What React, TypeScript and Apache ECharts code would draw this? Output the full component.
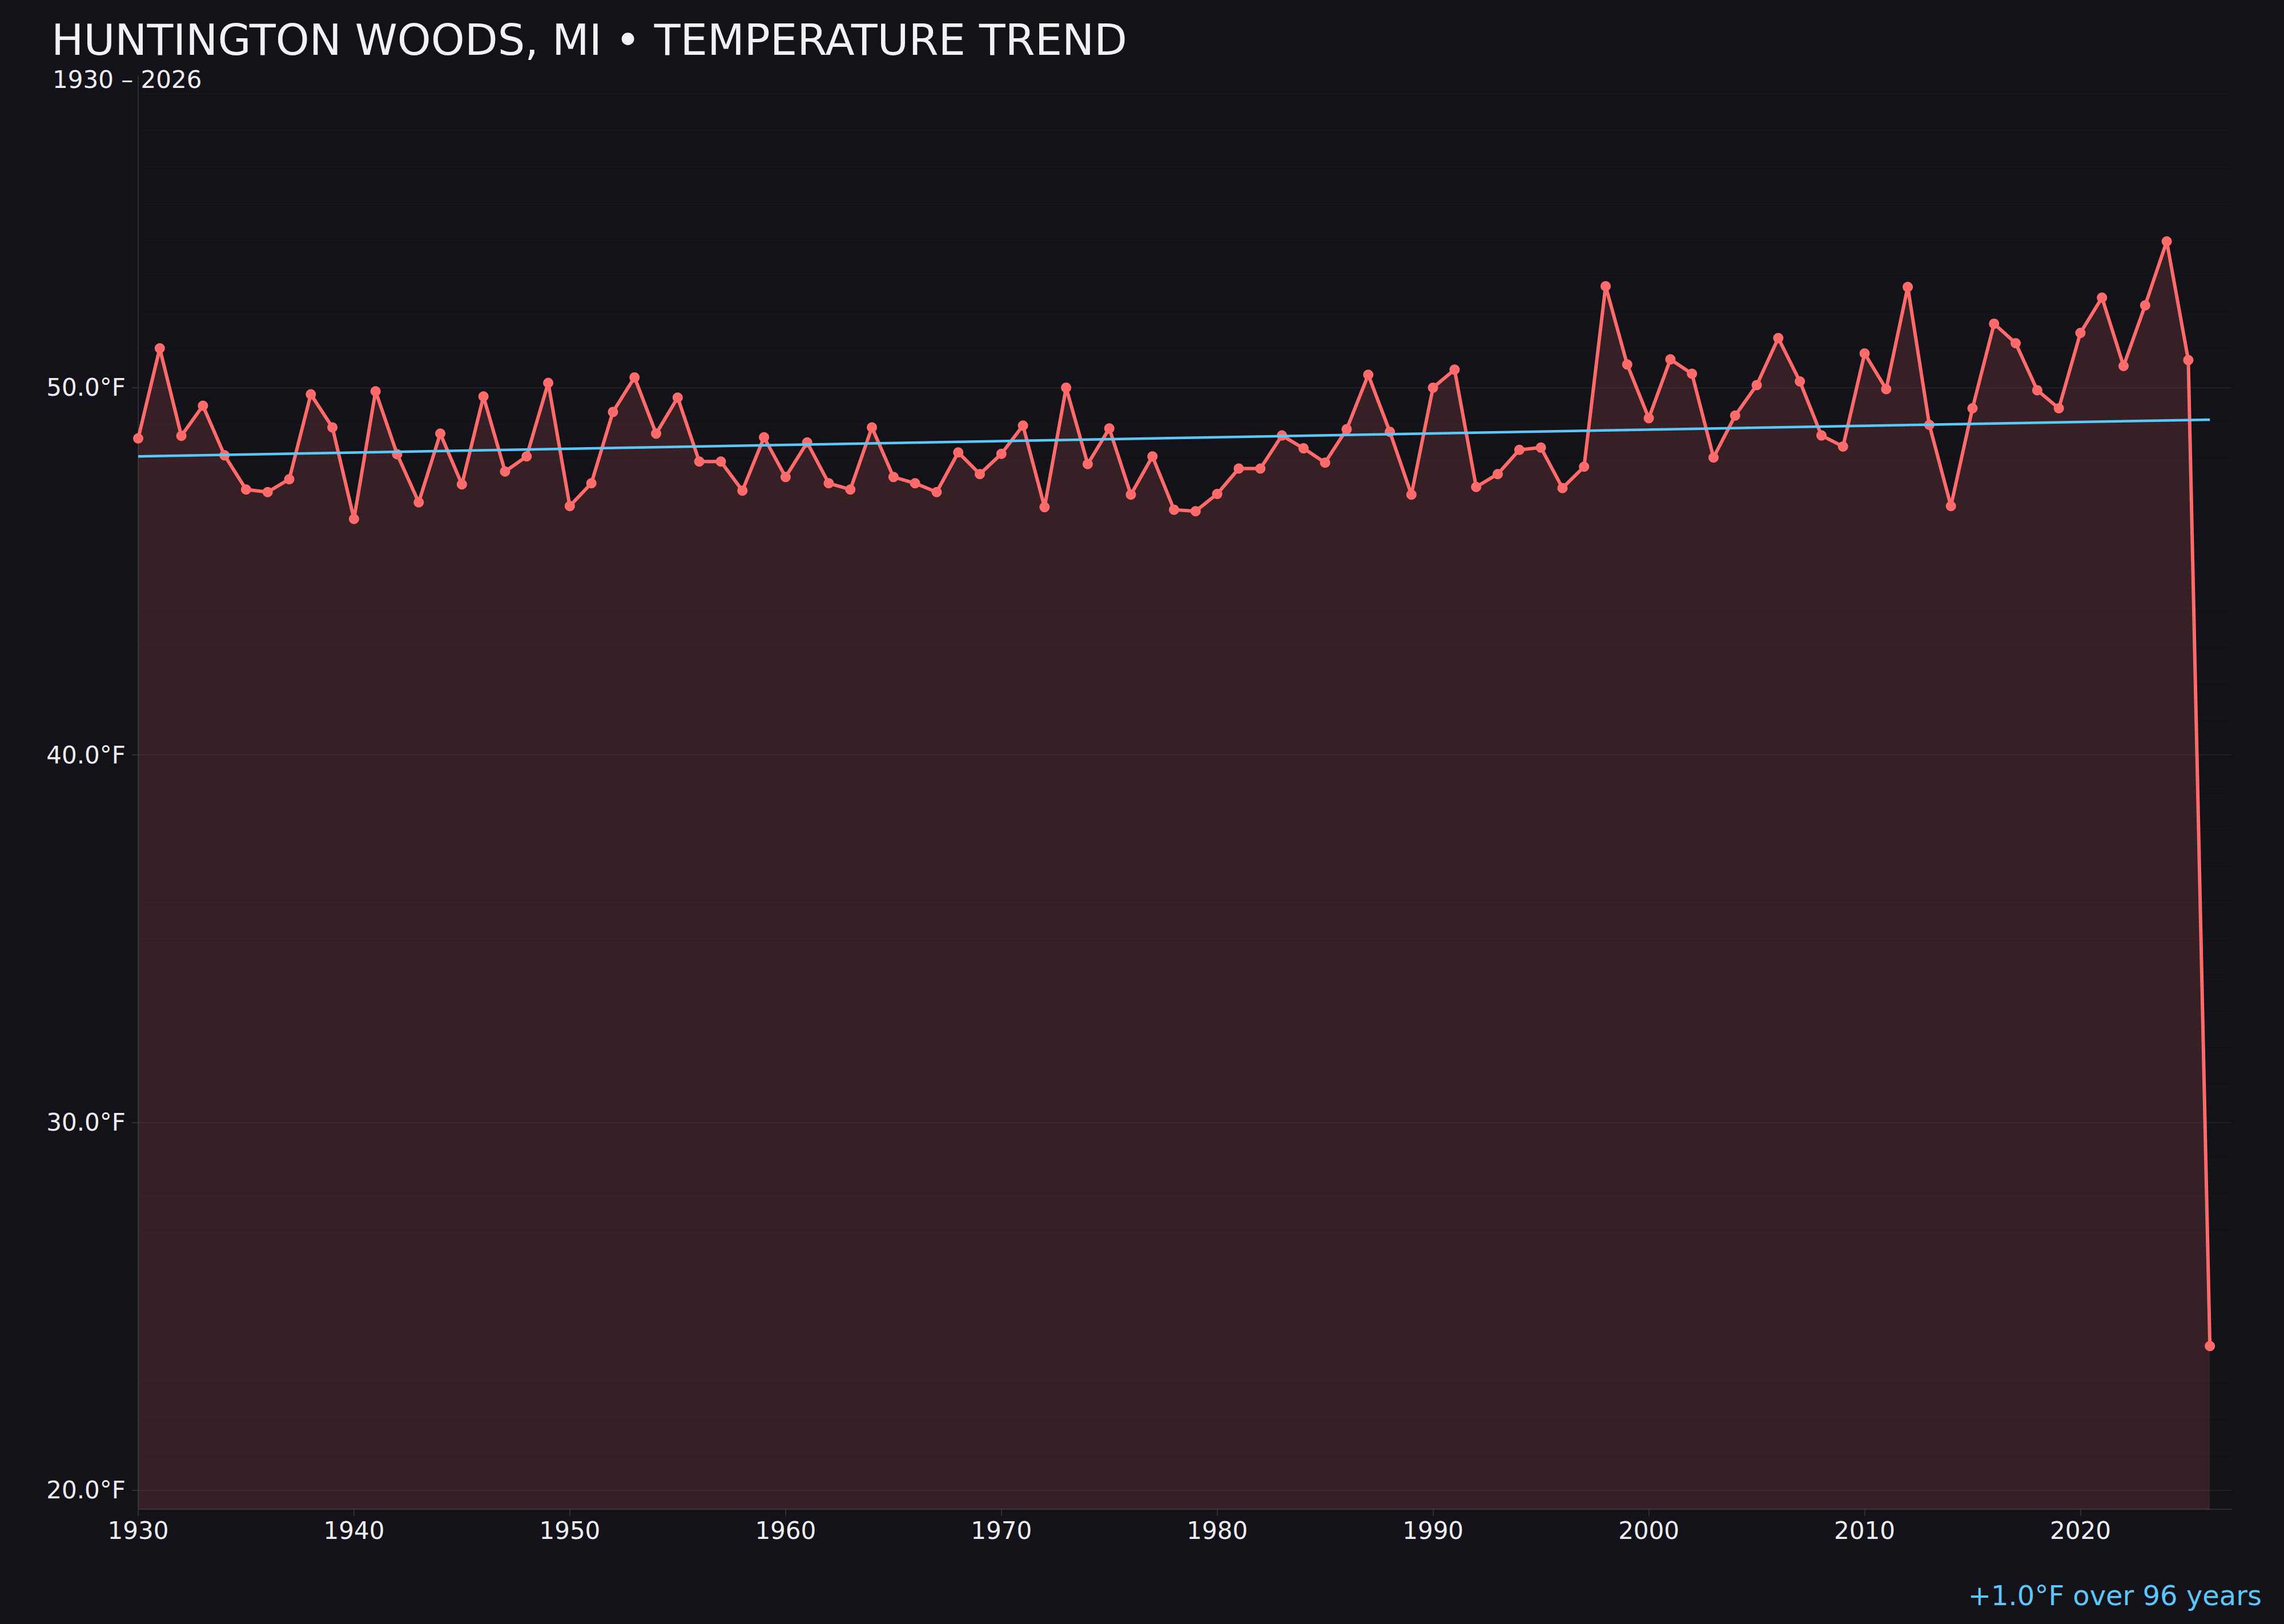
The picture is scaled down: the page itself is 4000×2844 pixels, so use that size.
import React, { useEffect, useRef } from 'react';
import * as echarts from 'echarts';

// annual mean temperature, °F
const years = [
  1930, 1931, 1932, 1933, 1934, 1935, 1936, 1937, 1938, 1939,
  1940, 1941, 1942, 1943, 1944, 1945, 1946, 1947, 1948, 1949,
  1950, 1951, 1952, 1953, 1954, 1955, 1956, 1957, 1958, 1959,
  1960, 1961, 1962, 1963, 1964, 1965, 1966, 1967, 1968, 1969,
  1970, 1971, 1972, 1973, 1974, 1975, 1976, 1977, 1978, 1979,
  1980, 1981, 1982, 1983, 1984, 1985, 1986, 1987, 1988, 1989,
  1990, 1991, 1992, 1993, 1994, 1995, 1996, 1997, 1998, 1999,
  2000, 2001, 2002, 2003, 2004, 2005, 2006, 2007, 2008, 2009,
  2010, 2011, 2012, 2013, 2014, 2015, 2016, 2017, 2018, 2019,
  2020, 2021, 2022, 2023, 2024, 2025, 2026,
];

const temps = [
  48.61, 51.06, 48.68, 49.5, 48.15, 47.22, 47.15, 47.5, 49.81, 48.91,
  46.42, 49.89, 48.18, 46.87, 48.74, 47.36, 49.75, 47.71, 48.12, 50.12,
  46.77, 47.39, 49.33, 50.27, 48.74, 49.72, 47.98, 47.98, 47.19, 48.64,
  47.56, 48.5, 47.39, 47.22, 48.91, 47.56, 47.39, 47.15, 48.23, 47.64,
  48.19, 48.96, 46.74, 49.99, 47.91, 48.88, 47.08, 48.12, 46.67, 46.63,
  47.1, 47.79, 47.79, 48.69, 48.34, 47.95, 48.86, 50.34, 48.79, 47.08,
  49.99, 50.48, 47.29, 47.64, 48.3, 48.36, 47.26, 47.84, 52.75, 50.62,
  49.16, 50.76, 50.37, 48.09, 49.23, 50.06, 51.34, 50.16, 48.69, 48.39,
  50.92, 49.95, 52.73, 48.98, 46.77, 49.43, 51.73, 51.2, 49.92, 49.43,
  51.48, 52.44, 50.58, 52.23, 53.97, 50.74, 23.92,
];

// trend line end points
const trendYears = [1930, 2026];
const trendValues = [48.12, 49.12];

const xTickLabels = [1930, 1940, 1950, 1960, 1970, 1980, 1990, 2000, 2010, 2020];
const yTickLabels = [20, 30, 40, 50];

const TITLE = 'HUNTINGTON WOODS, MI • TEMPERATURE TREND';
const SUBTITLE = '1930 – 2026';
const NOTE = '+1.0°F over 96 years';

const BG = '#131219';
const RED = '#ff6b6b';
const BLUE = '#5ac8fa';
const AXIS = '#2f2e38';
const TEXT = '#eeeef2';
const FONT = 'DejaVu Sans';

const App: React.FC = () => {
  const chartRef = useRef<HTMLDivElement>(null);

  useEffect(() => {
    if (!chartRef.current) return;
    document.body.style.margin = '0';
    document.body.style.background = BG;

    const chart = echarts.init(chartRef.current, undefined, { renderer: 'svg' });

    const option: any = {
      backgroundColor: BG,
      animation: false,
      textStyle: { fontFamily: FONT },
      grid: { left: 242, right: 92, top: 133, bottom: 201, containLabel: false },
      xAxis: {
        type: 'value',
        min: 1930,
        max: 2027,
        interval: 10,
        axisLine: { show: true, lineStyle: { color: AXIS, width: 2 } },
        axisTick: { show: true, length: 12, lineStyle: { color: AXIS, width: 2 }, customValues: xTickLabels },
        axisLabel: {
          color: TEXT,
          fontSize: 42,
          fontFamily: FONT,
          margin: 16,
          customValues: xTickLabels,
          formatter: (v: number) => String(v),
        },
        splitLine: { show: false },
      },
      yAxis: {
        type: 'value',
        min: 19.48,
        max: 58.47,
        axisLine: { show: true, lineStyle: { color: AXIS, width: 2 } },
        axisTick: { show: true, length: 11, lineStyle: { color: AXIS, width: 2 }, customValues: yTickLabels },
        axisLabel: {
          color: TEXT,
          fontSize: 42,
          fontFamily: FONT,
          margin: 22,
          customValues: yTickLabels,
          formatter: (v: number) => `${v.toFixed(1)}°F`,
        },
        splitLine: { show: true, lineStyle: { color: 'rgba(255,255,255,0.06)', width: 2 } },
        minorTick: { show: false, splitNumber: 10 },
        minorSplitLine: { show: true, lineStyle: { color: 'rgba(255,255,255,0.018)', width: 2 } },
      },
      series: [
        {
          name: 'Temperature',
          type: 'line',
          data: years.map((y, i) => [y, temps[i]]),
          symbol: 'circle',
          symbolSize: 18,
          showSymbol: true,
          itemStyle: { color: RED },
          lineStyle: { color: RED, width: 6 },
          areaStyle: { color: 'rgba(255,107,107,0.15)', opacity: 1, origin: 'start' },
          z: 3,
        },
        {
          name: 'Trend',
          type: 'line',
          data: trendYears.map((y, i) => [y, trendValues[i]]),
          symbol: 'none',
          lineStyle: { color: BLUE, width: 4.5 },
          z: 4,
        },
      ],
      graphic: [
        {
          type: 'text',
          left: 90,
          top: 32,
          style: { text: TITLE, fill: '#f2f2f6', fontSize: 75, lineHeight: 62, fontFamily: FONT },
        },
        {
          type: 'text',
          left: 92,
          top: 118,
          style: { text: SUBTITLE, fill: TEXT, fontSize: 42, lineHeight: 36, fontFamily: FONT },
        },
        {
          type: 'text',
          right: 39,
          top: 2770,
          style: { text: NOTE, fill: BLUE, fontSize: 48, fontFamily: FONT },
        },
      ],
    };

    chart.setOption(option);

    return () => {
      chart.dispose();
    };
  }, []);

  return <div ref={chartRef} style={{ width: 4000, height: 2844 }} />;
};

export default App;
